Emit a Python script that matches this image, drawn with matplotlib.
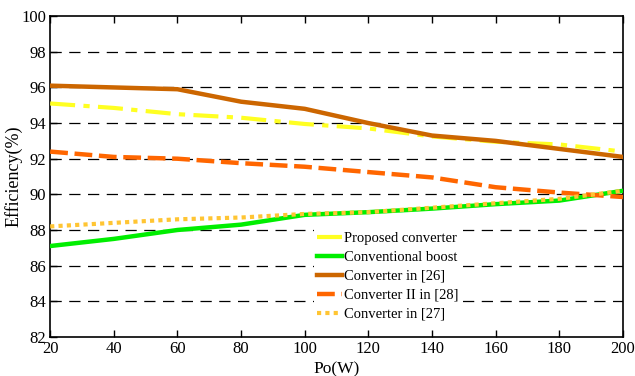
import matplotlib
matplotlib.use("Agg")
import matplotlib.pyplot as plt

po = [20, 40, 60, 80, 100, 120, 140, 160, 180, 200]
proposed = [95.1, 94.85, 94.5, 94.3, 93.95, 93.7, 93.25, 92.95, 92.8, 92.4]
conventional = [87.1, 87.5, 88.0, 88.3, 88.85, 89.0, 89.2, 89.45, 89.65, 90.2]
conv26 = [96.1, 96.0, 95.9, 95.2, 94.8, 94.0, 93.3, 93.0, 92.55, 92.1]
conv28 = [92.4, 92.1, 92.0, 91.75, 91.55, 91.25, 90.95, 90.4, 90.1, 89.85]
conv27 = [88.2, 88.4, 88.6, 88.7, 88.9, 89.0, 89.25, 89.5, 89.75, 90.2]

xticks = [20, 40, 60, 80, 100, 120, 140, 160, 180, 200]
yticks = [82, 84, 86, 88, 90, 92, 94, 96, 98, 100]

plt.rcParams['font.family'] = ['Liberation Serif', 'DejaVu Serif']

fig = plt.figure(figsize=(6.35, 3.76), dpi=100)
ax = fig.add_axes([0.079, 0.104, 0.902, 0.853])

for y in yticks[1:-1]:
    ax.axhline(y, color='black', lw=0.9, ls=(0, (9, 6)), zorder=1)

ax.plot(po, proposed, color='#FFFF22', lw=3, ls=(0, (6, 2, 1.5, 2)), label='Proposed converter', zorder=3)
ax.plot(po, conventional, color='#00EE00', lw=3.2, ls='-', label='Conventional boost', zorder=3)
ax.plot(po, conv26, color='#CC6600', lw=3.2, ls='-', label='Converter in [26]', zorder=3)
ax.plot(po, conv28, color='#FF6600', lw=3.2, ls=(0, (4, 1.5)), label='Converter II in [28]', zorder=3)
ax.plot(po, conv27, color='#FFC533', lw=3, ls=(0, (1, 1)), label='Converter in [27]', zorder=4)

ax.set_xlim(20, 200)
ax.set_ylim(82, 100)
ax.set_xticks(xticks)
ax.set_yticks(yticks)
ax.tick_params(direction='in', labelsize=12, length=5, top=True, right=False, width=1, pad=3)
for s in ax.spines.values():
    s.set_linewidth(1.2)

ax.set_xlabel('Po(W)', fontsize=12.5, labelpad=3)
ax.set_ylabel('Efficiency(%)', fontsize=13)
ax.yaxis.set_label_coords(-0.049, 0.5)

leg = ax.legend(loc='upper left', bbox_to_anchor=(0.461, 0.338), frameon=True, fontsize=10.5,
                handlelength=1.7, handletextpad=0.15, labelspacing=0.4, borderpad=0.2,
                borderaxespad=0)
leg.get_frame().set_edgecolor('none')
leg.get_frame().set_facecolor('white')
leg.get_frame().set_alpha(1)
leg.get_frame().set_boxstyle('square', pad=0)

fig.savefig('out.png', dpi=100)
